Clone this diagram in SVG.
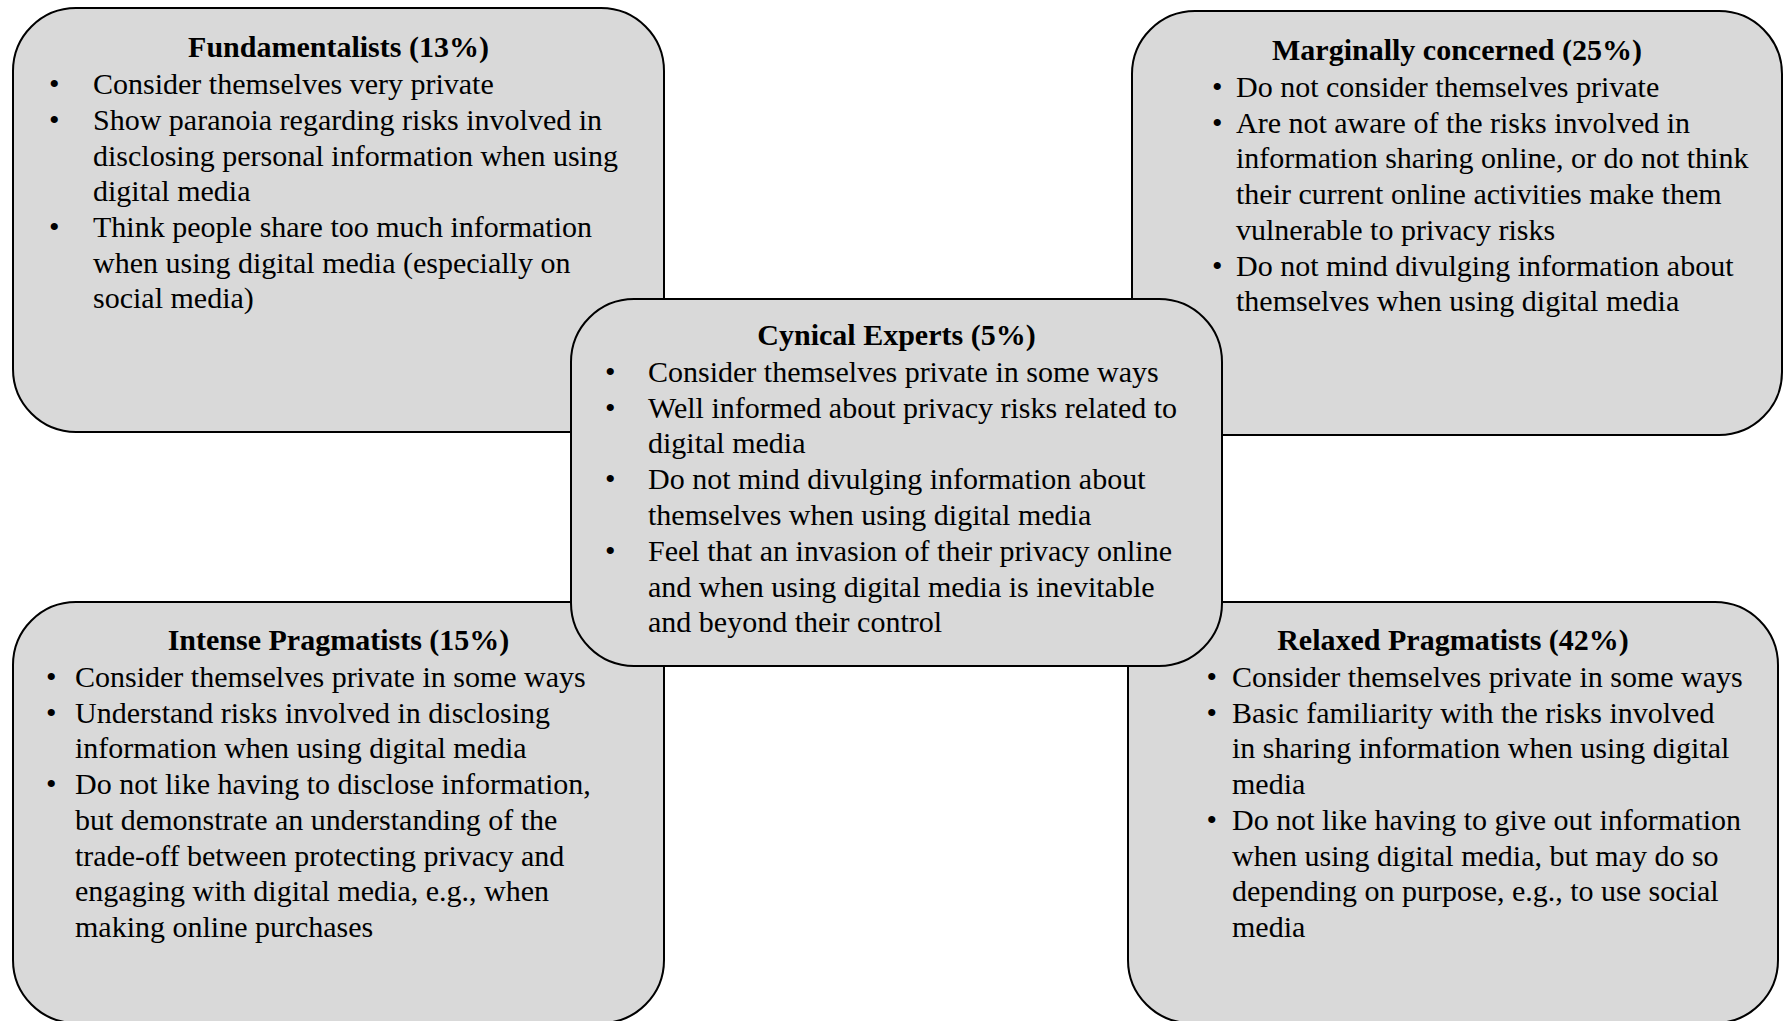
<svg xmlns="http://www.w3.org/2000/svg" width="1786" height="1021" viewBox="0 0 1786 1021">
<style>
.box{fill:#d9d9d9;stroke:#000;stroke-width:2}
text{font-family:"Liberation Serif","Times New Roman",serif;font-size:30px;fill:#000}
.t{font-weight:bold;text-anchor:middle}
</style>
<rect width="1786" height="1021" fill="#fff"/>
<g id="connectors"/>
<g id="fundamentalists">
<rect class="box" x="13" y="8" width="651" height="424" rx="63" ry="63"/>
<text class="t" x="338.5" y="57">Fundamentalists (13%)</text>
<text x="49" y="94">•</text><text x="49" y="130">•</text><text x="49" y="237">•</text>
<text x="93" y="94">Consider themselves very private</text>
<text x="93" y="130">Show paranoia regarding risks involved in</text>
<text x="93" y="166">disclosing personal information when using</text>
<text x="93" y="201">digital media</text>
<text x="93" y="237">Think people share too much information</text>
<text x="93" y="273">when using digital media (especially on</text>
<text x="93" y="308">social media)</text>
</g>
<g id="marginally-concerned">
<rect class="box" x="1132" y="11" width="650" height="424" rx="63" ry="63"/>
<text class="t" x="1457" y="60">Marginally concerned (25%)</text>
<text x="1212" y="97">•</text><text x="1212" y="132.5">•</text><text x="1212" y="275.5">•</text>
<text x="1236" y="97">Do not consider themselves private</text>
<text x="1236" y="132.5">Are not aware of the risks involved in</text>
<text x="1236" y="168">information sharing online, or do not think</text>
<text x="1236" y="204">their current online activities make them</text>
<text x="1236" y="240">vulnerable to privacy risks</text>
<text x="1236" y="275.5">Do not mind divulging information about</text>
<text x="1236" y="311">themselves when using digital media</text>
</g>
<g id="intense-pragmatists">
<rect class="box" x="13" y="602" width="651" height="421" rx="63" ry="63"/>
<text class="t" x="338.5" y="650">Intense Pragmatists (15%)</text>
<text x="46" y="687">•</text><text x="46" y="722.5">•</text><text x="46" y="794">•</text>
<text x="75" y="687">Consider themselves private in some ways</text>
<text x="75" y="722.5">Understand risks involved in disclosing</text>
<text x="75" y="758">information when using digital media</text>
<text x="75" y="794">Do not like having to disclose information,</text>
<text x="75" y="829.5">but demonstrate an understanding of the</text>
<text x="75" y="865.5">trade-off between protecting privacy and</text>
<text x="75" y="901">engaging with digital media, e.g., when</text>
<text x="75" y="937">making online purchases</text>
</g>
<g id="relaxed-pragmatists">
<rect class="box" x="1128" y="602" width="650" height="421" rx="63" ry="63"/>
<text class="t" x="1453" y="650">Relaxed Pragmatists (42%)</text>
<text x="1206.5" y="687">•</text><text x="1206.5" y="722.5">•</text><text x="1206.5" y="829.5">•</text>
<text x="1232" y="687">Consider themselves private in some ways</text>
<text x="1232" y="722.5">Basic familiarity with the risks involved</text>
<text x="1232" y="758">in sharing information when using digital</text>
<text x="1232" y="794">media</text>
<text x="1232" y="829.5">Do not like having to give out information</text>
<text x="1232" y="865.5">when using digital media, but may do so</text>
<text x="1232" y="901">depending on purpose, e.g., to use social</text>
<text x="1232" y="937">media</text>
</g>
<g id="cynical-experts">
<rect class="box" x="571" y="299" width="651" height="367" rx="63" ry="63"/>
<text class="t" x="896.5" y="345">Cynical Experts (5%)</text>
<text x="605" y="381.7">•</text><text x="605" y="417.5">•</text><text x="605" y="489">•</text><text x="605" y="560.5">•</text>
<text x="648" y="381.7">Consider themselves private in some ways</text>
<text x="648" y="417.5">Well informed about privacy risks related to</text>
<text x="648" y="453.3">digital media</text>
<text x="648" y="489">Do not mind divulging information about</text>
<text x="648" y="525">themselves when using digital media</text>
<text x="648" y="560.5">Feel that an invasion of their privacy online</text>
<text x="648" y="596.5">and when using digital media is inevitable</text>
<text x="648" y="632.3">and beyond their control</text>
</g>
</svg>
